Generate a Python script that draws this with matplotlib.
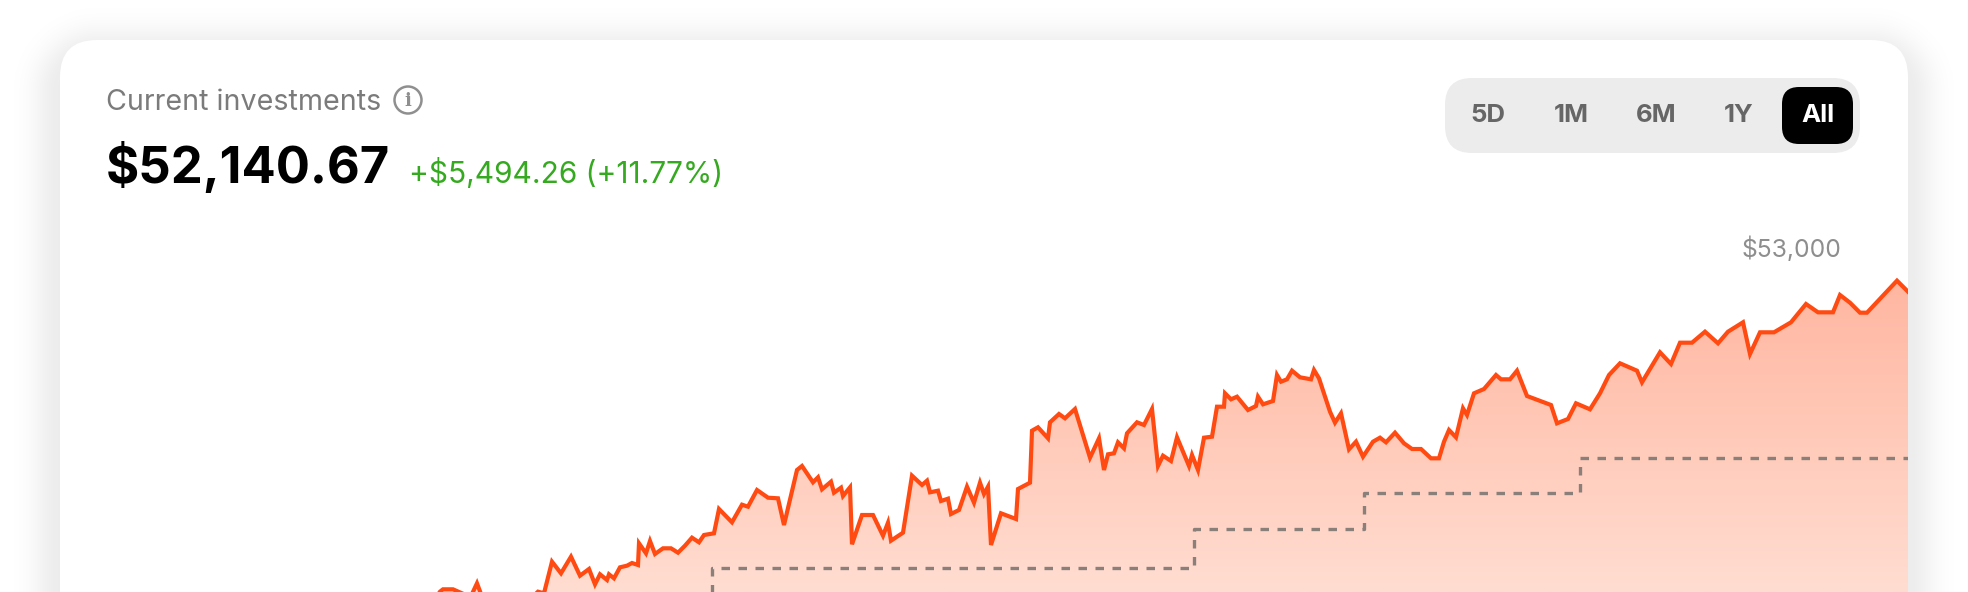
import matplotlib
matplotlib.use("Agg")
import matplotlib.pyplot as plt
import numpy as np
from matplotlib.colors import LinearSegmentedColormap
from matplotlib.patches import Circle, FancyBboxPatch, PathPatch

WIDTH, HEIGHT = 1968, 592
CARD = (60, 40, 1908, 700)

LINE_COLOR = "#ff4a12"
STEP_COLOR = "#8b7f7a"
GAIN_COLOR = "#35a91f"

TITLE = "Current investments"
VALUE = "$52,140.67"
CHANGE = "+$5,494.26 (+11.77%)"
RANGES = ["5D", "1M", "6M", "1Y", "All"]
RANGE_X = [1488, 1571, 1656, 1739, 1818]

# portfolio value (the part below the crop is a guess)
days = [
    60, 300, 430, 440, 443, 453, 462, 470, 477, 482, 500, 520, 538, 544, 552, 561, 571, 580, 589, 595,
    600, 607, 609, 614, 620, 627, 632, 638, 639, 646, 650, 655, 663, 671, 678, 685, 692, 699, 704, 714,
    719, 732, 742, 748, 757, 768, 778, 784, 797, 802, 813, 818, 822, 831, 834, 841, 843, 850, 852, 862,
    873, 883, 888, 891, 903, 912, 922, 927, 930, 938, 941, 948, 951, 959, 967, 974, 980, 984, 988, 991,
    1001, 1016, 1018, 1030, 1032, 1038, 1048, 1050, 1059, 1065, 1075, 1090, 1099, 1104, 1108, 1114, 1118, 1124, 1127, 1137,
    1144, 1152, 1158, 1163, 1171, 1177, 1189, 1192, 1198, 1204, 1212, 1217, 1224, 1225, 1231, 1237, 1248, 1256, 1258, 1263,
    1273, 1277, 1281, 1287, 1292, 1300, 1311, 1314, 1319, 1330, 1335, 1341, 1349, 1356, 1363, 1373, 1380, 1386, 1395, 1404,
    1412, 1421, 1431, 1439, 1444, 1449, 1456, 1463, 1467, 1474, 1484, 1496, 1501, 1510, 1517, 1527, 1551, 1557, 1568, 1576,
    1590, 1600, 1609, 1620, 1637, 1642, 1660, 1671, 1680, 1692, 1705, 1718, 1728, 1743, 1750, 1760, 1774, 1791, 1806, 1818,
    1833, 1840, 1850, 1860, 1867, 1897, 1908,
]
portfolio = [
    46646, 46900, 47250, 47485, 47523, 47523, 47459, 47380, 47619, 47405, 47190, 47200, 47485, 47459, 47965, 47779, 48045, 47741, 47848, 47603,
    47763, 47672, 47763, 47699, 47875, 47901, 47944, 47912, 48259, 48099, 48296, 48088, 48179, 48179, 48109, 48221, 48349, 48275, 48392, 48419,
    48808, 48595, 48877, 48845, 49112, 48989, 48979, 48552, 49432, 49496, 49235, 49315, 49123, 49245, 49069, 49149, 49016, 49155, 48243, 48712,
    48712, 48381, 48589, 48301, 48429, 49341, 49192, 49261, 49075, 49101, 48936, 48973, 48728, 48792, 49165, 48909, 49229, 49048, 49165, 48232,
    48739, 48648, 49128, 49229, 50061, 50115, 49939, 50195, 50328, 50259, 50408, 49629, 49939, 49432, 49683, 49699, 49875, 49779, 50019, 50195,
    50152, 50408, 49496, 49661, 49576, 49955, 49496, 49672, 49432, 49949, 49965, 50445, 50445, 50659, 50563, 50605, 50392, 50456, 50605, 50483,
    50536, 50952, 50845, 50883, 51021, 50915, 50883, 51032, 50899, 50365, 50189, 50339, 49763, 49885, 49645, 49885, 49949, 49875, 50029, 49859,
    49768, 49768, 49619, 49619, 49885, 50072, 49955, 50419, 50312, 50659, 50728, 50952, 50883, 50883, 51021, 50616, 50472, 50179, 50248, 50499,
    50403, 50659, 50952, 51139, 51021, 50835, 51315, 51128, 51469, 51469, 51645, 51459, 51645, 51795, 51288, 51635, 51635, 51795, 52088, 51955,
    51955, 52232, 52109, 51949, 51949, 52461, 52285,
]

# money put in, drawn as the dashed staircase
deposit_days = [60, 712, 1194, 1364, 1580, 1908]
deposits = [46646, 47864, 48488, 49064, 49624, 49624]

Y_LABEL_VALUE = 53000
Y_MIN, Y_MAX = 47480, 56952


def draw_shadow(ui):
    """Soft grey glow round the card, from the distance to its rounded edge."""
    xx, yy = np.meshgrid(np.arange(WIDTH) + 0.5, np.arange(HEIGHT) + 0.5)
    x0, y0, x1, y1 = CARD
    r = 37
    cx, cy = (x0 + x1) / 2, (y0 + y1) / 2 + 14
    qx = np.abs(xx - cx) - ((x1 - x0) / 2 - r)
    qy = np.abs(yy - cy) - ((y1 - y0) / 2 - r)
    dist = np.hypot(np.maximum(qx, 0), np.maximum(qy, 0)) + np.minimum(np.maximum(qx, qy), 0) - r
    alpha = 0.075 * np.exp(-((np.maximum(dist, 0) / 27) ** 2))
    rgba = np.zeros((HEIGHT, WIDTH, 4))
    rgba[..., 3] = alpha
    ui.imshow(rgba, extent=(0, WIDTH, HEIGHT, 0), aspect="auto", zorder=0, interpolation="bilinear")


def draw_card(ui):
    x0, y0, x1, y1 = CARD
    ui.add_patch(FancyBboxPatch((x0, y0), x1 - x0, y1 - y0, boxstyle="round,pad=0,rounding_size=37",
                                fc="white", ec="none", zorder=1))

    ui.text(106, 102, TITLE, color="#7b7b7b", fontsize=20.6, family="Inter", va="center", zorder=3)
    ui.add_patch(Circle((408, 100), 13.5, fc="none", ec="#8f8f8f", lw=1.8, zorder=3))
    ui.text(408, 100.5, "i", color="#8f8f8f", fontsize=13, family="DejaVu Serif", fontweight="bold",
            ha="center", va="center", zorder=3)

    ui.text(106, 183, VALUE, color="black", fontsize=36.5, family="Inter", fontweight="bold",
            va="baseline", zorder=3)
    ui.text(409, 183, CHANGE, color=GAIN_COLOR, fontsize=21.5, family="Inter", va="baseline", zorder=3)

    ui.add_patch(FancyBboxPatch((1445, 78), 415, 75, boxstyle="round,pad=0,rounding_size=27",
                                fc="#ececec", ec="none", zorder=2))
    ui.add_patch(FancyBboxPatch((1782, 87), 71, 57, boxstyle="round,pad=0,rounding_size=17",
                                fc="black", ec="none", zorder=2))
    for label, x in zip(RANGES, RANGE_X):
        color = "white" if label == "All" else "#666666"
        ui.text(x, 115, label, color=color, fontsize=18.5, family="Inter", fontweight="bold",
                ha="center", va="center", zorder=3)


def draw_chart(ax):
    x = np.array(days)
    y = np.array(portfolio)

    area = ax.fill_between(x, y, Y_MIN - 500, facecolor="none", edgecolor="none")
    cmap = LinearSegmentedColormap.from_list("area", ["#ffb6a0", "#ffddd1"])
    gradient = ax.imshow(np.linspace(0, 1, 256).reshape(-1, 1), cmap=cmap, aspect="auto",
                         extent=(x[0], x[-1], Y_MIN, 52500), origin="upper", zorder=1)
    gradient.set_clip_path(PathPatch(area.get_paths()[0], transform=ax.transData))

    ax.plot(deposit_days, deposits, drawstyle="steps-post", color=STEP_COLOR, lw=2.4,
            dashes=(2.55, 2.55), dash_capstyle="butt", zorder=2)
    ax.plot(x, y, color=LINE_COLOR, lw=3.0, solid_joinstyle="miter", zorder=3)

    ax.annotate(f"${Y_LABEL_VALUE:,}", xy=(1841, Y_LABEL_VALUE), xytext=(0, -2), textcoords="offset pixels",
                color="#8e8e8e", fontsize=17.8, family="Inter", ha="right", va="center", zorder=4)
    ax.set_xlim(CARD[0], CARD[2])
    ax.set_ylim(Y_MIN, Y_MAX)
    ax.axis("off")


def main():
    fig = plt.figure(figsize=(WIDTH / 100, HEIGHT / 100), dpi=100, facecolor="white")

    ui = fig.add_axes([0, 0, 1, 1])
    ui.set_xlim(0, WIDTH)
    ui.set_ylim(HEIGHT, 0)
    ui.axis("off")
    draw_shadow(ui)
    ui.set_xlim(0, WIDTH)
    ui.set_ylim(HEIGHT, 0)
    draw_card(ui)

    ax = fig.add_axes([CARD[0] / WIDTH, 0, (CARD[2] - CARD[0]) / WIDTH, 1])
    ax.patch.set_alpha(0)
    draw_chart(ax)

    fig.savefig("out.png", dpi=100)


if __name__ == "__main__":
    main()
